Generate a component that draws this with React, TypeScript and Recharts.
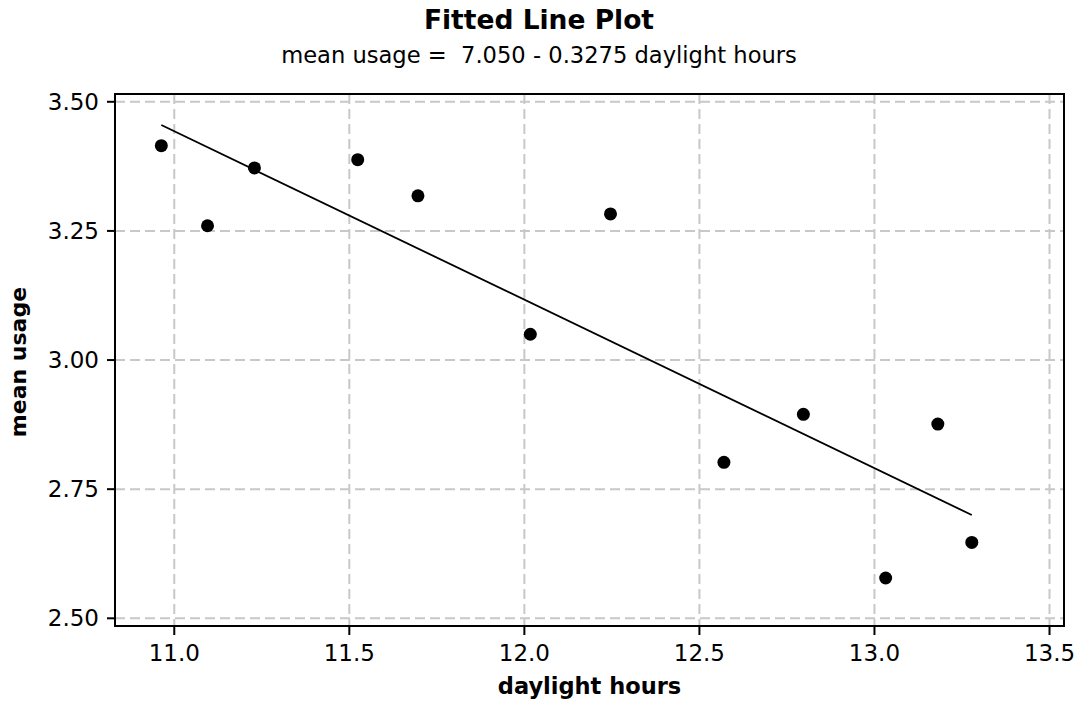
import { ComposedChart, Scatter, XAxis, YAxis, CartesianGrid, ReferenceArea } from 'recharts';

const hours = [10.963, 11.095, 11.229, 11.524, 11.696, 12.017, 12.246, 12.57, 12.797, 13.032, 13.181, 13.278];
const usage = [3.415, 3.26, 3.372, 3.388, 3.318, 3.05, 3.283, 2.802, 2.895, 2.578, 2.876, 2.647];

// fitted line end points
const fitHours = [10.963, 13.278];
const fitUsage = [3.455, 2.7];

const xTicks = [11.0, 11.5, 12.0, 12.5, 13.0, 13.5];
const yTicks = [2.5, 2.75, 3.0, 3.25, 3.5];

const xDomain = [10.8307, 13.5414];
const yDomain = [2.4851, 3.5151];

const points = hours.map((h, i) => ({ x: h, y: usage[i] }));
const fit = fitHours.map((h, i) => ({ x: h, y: fitUsage[i] }));

const font = 'DejaVu Sans, Verdana, sans-serif';
const tickStyle = { fontSize: 23, fill: '#000', fontFamily: font };

const Dot = (props: any) => <circle cx={props.cx} cy={props.cy} r={6.5} fill="#000" />;
const NoDot = () => null;

export default function App() {
  return (
    <div style={{ position: 'absolute', left: 0, top: 0, width: 1078, height: 706, background: '#fff', fontFamily: font }}>
      <div style={{ position: 'absolute', left: 0, width: 1078, top: 4, textAlign: 'center', fontSize: 26.5, fontWeight: 'bold' }}>
        Fitted Line Plot
      </div>
      <div style={{ position: 'absolute', left: 0, width: 1078, top: 42, textAlign: 'center', fontSize: 22.6, whiteSpace: 'pre' }}>
        {'mean usage =  7.050 - 0.3275 daylight hours'}
      </div>
      <div style={{ position: 'absolute', left: 115, width: 949, top: 673, textAlign: 'center', fontSize: 22.5, fontWeight: 'bold' }}>
        daylight hours
      </div>
      <div style={{ position: 'absolute', left: 18, top: 362, width: 0, height: 0 }}>
        <div style={{ position: 'absolute', transform: 'translate(-50%, -50%) rotate(-90deg)', whiteSpace: 'nowrap', fontSize: 22, fontWeight: 'bold' }}>
          mean usage
        </div>
      </div>
      <ComposedChart
        width={1078}
        height={706}
        margin={{ top: 94, right: 14, left: 15, bottom: 0 }}
        style={{ position: 'absolute', left: 0, top: 0 }}
      >
        <CartesianGrid stroke="#c8c8c8" strokeWidth={2} strokeDasharray="10 5" horizontalValues={yTicks} verticalValues={xTicks} />
        <XAxis
          type="number"
          dataKey="x"
          domain={xDomain}
          ticks={xTicks}
          tickFormatter={(v: number) => v.toFixed(1)}
          height={80}
          tick={tickStyle}
          tickSize={9}
          tickMargin={10}
          stroke="#000"
          strokeWidth={2}
          allowDataOverflow
        />
        <YAxis
          type="number"
          dataKey="y"
          domain={yDomain}
          ticks={yTicks}
          tickFormatter={(v: number) => v.toFixed(2)}
          width={100}
          tick={tickStyle}
          tickSize={8}
          tickMargin={8}
          stroke="#000"
          strokeWidth={2}
          allowDataOverflow
        />
        <ReferenceArea
          x1={xDomain[0]}
          x2={xDomain[1]}
          y1={yDomain[0]}
          y2={yDomain[1]}
          fill="none"
          fillOpacity={0}
          stroke="#000"
          strokeWidth={2}
          ifOverflow="visible"
        />
        <Scatter
          data={fit}
          line={{ stroke: '#000', strokeWidth: 1.8 }}
          shape={NoDot}
          isAnimationActive={false}
        />
        <Scatter data={points} shape={Dot} isAnimationActive={false} />
      </ComposedChart>
    </div>
  );
}
